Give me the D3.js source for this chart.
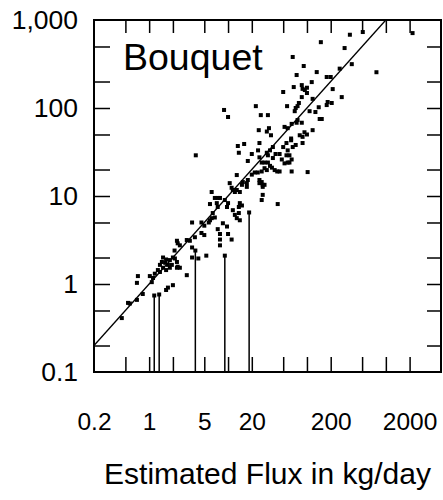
<!DOCTYPE html>
<html>
<head>
<meta charset="utf-8">
<script src="https://cdn.jsdelivr.net/npm/d3@7"></script>
<style>
  body { margin: 0; background: #fff; }
  svg { display: block; }
</style>
</head>
<body>
<div class="flux_chart"></div>
<script>
const estimated = [
  510, 350, 2180, 150, 300, 66, 370, 260, 760, 91, 74, 133, 178, 200, 115, 50, 68, 86, 88, 100,
  94, 212, 100, 276, 86, 118, 183, 206, 178, 79, 76, 72, 70, 56, 141, 108, 128, 22.5, 8.9, 10,
  26, 32, 145, 154, 76, 74, 86, 64, 52, 57, 24.5, 33, 31, 118, 93, 100, 81, 88, 63, 35,
  63, 72, 66, 55, 50, 88, 25, 24, 13.3, 16, 13.7, 37,
  20, 17.8, 34, 57, 31, 32, 45, 48, 60, 64, 26.7, 29, 32, 57, 36, 39, 42, 45, 60, 64,
  26.7, 23.8, 21.8, 20, 25, 26.7, 27.5, 25, 17.8, 15.4, 12.9, 10.5, 11.1, 11.5, 12.9, 14.1, 12.2, 6.2, 27.5, 26.7,
  42.6, 6.8, 7.4, 7.9, 9.1, 10, 9.7, 5.9, 7.2, 7.4, 14.1, 15, 13.7, 11.5, 12.2, 12.9, 14.1, 6.4, 6.2, 5.9,
  6.8, 8.6, 9.7, 7.4, 4.6, 5.0, 15, 17.3, 13.7, 5.7, 3.5, 4.6, 7.9, 7.9, 10, 11.1, 3.8, 3.28, 3.0, 2.25,
  2.3, 2.45, 3.5, 3.5, 4.2, 5.3, 5.0, 7.9, 29, 27.5, 17.3, 102, 3.9, 40, 55, 52, 25, 34, 37, 29, 31,
  2.1, 1.5, 1.64, 1.83, 2.0, 2.12, 1.45, 1.37, 1.6, 1.73, 1.94, 2.25, 2.3, 2.25, 2.45, 1.83, 1.64, 1.5, 1.29, 1.37,
  3.0, 0.72, 0.70, 1.02, 1.18, 1.12, 1.08, 2.0, 1.73, 1.64, 0.83, 0.70, 0.54, 0.57, 0.45
];
const observed = [
  730, 680, 710, 560, 480, 380, 315, 280, 255, 300, 237, 256, 225, 225, 197, 152, 173, 182, 165, 170,
  160, 164, 148, 133, 133, 127, 117, 114, 108, 114, 105, 100, 92, 105, 102, 92, 90, 105, 95, 79,
  83, 83, 75, 75, 73, 68, 68, 66, 61, 59, 56, 59, 54, 56, 53, 50, 49, 47, 45, 49,
  43, 38, 36, 40, 36, 40, 40, 33, 37, 39, 31, 36,
  30, 25, 33, 33, 31, 29, 30, 26, 29, 26, 24, 24, 24, 24, 21, 19.7, 19, 19, 24, 19,
  19, 18.5, 18.5, 17.5, 15.2, 14.4, 13.4, 14, 15.2, 14.4, 17.3, 14, 12.4, 11.7, 11.7, 11.1, 11.1, 11.1, 10.3, 9,
  8.1, 9.5, 9.5, 9.5, 9, 8.3, 7.5, 8.1, 8.3, 7.5, 8.3, 7.8, 7.5, 6.9, 6.1, 5.6, 5.3, 6.4, 5.6, 5.3,
  5.7, 4.9, 4.5, 4.2, 5.0, 4.6, 13.4, 14, 6.4, 5.0, 5.0, 3.8, 3.7, 3.2, 3.7, 3.2, 3.4, 3.1, 3.16, 3.1,
  2.9, 2.75, 2.6, 2.0, 1.95, 2.1, 3.6, 2.75, 13.4, 12.7, 12.7, 18.7, 29, 30, 29, 23.5, 27.5, 22, 27, 20.7, 19.7,
  2.4, 2.0, 1.9, 1.87, 2.0, 1.95, 1.78, 1.65, 1.74, 1.65, 1.65, 1.78, 1.57, 1.53, 1.53, 1.53, 1.44, 1.53, 1.44, 1.37,
  1.26, 1.23, 1.03, 1.23, 1.31, 1.17, 1.05, 0.97, 0.91, 0.855, 0.77, 0.66, 0.61, 0.6, 0.41
];
// censored samples, drawn as a stem from the bottom of the plot
const censoredEst = [1.16, 1.34, 3.85, 9.1, 18.5];
const censoredObs = [0.74, 0.76, 2.4, 2.1, 6.5];

const xTicks = [0.5, 1, 2, 5, 10, 20, 50, 100, 200, 500, 1000, 2000];
const xLabels = [0.2, 1, 5, 20, 200, 2000];
const yTicks = [0.2, 0.5, 1, 2, 5, 10, 20, 50, 100, 200, 500];
const yLabels = [0.1, 1, 10, 100, 1000];
const siteName = "Bouquet";
const xTitle = "Estimated Flux in kg/day";

const width = 443, height = 500;
const plotL = 94, plotR = 441, plotT = 20, plotB = 372;
const font = "Arial, 'Liberation Sans', sans-serif";

const x = d3.scaleLog().domain([0.2, 5000]).range([plotL, plotR]);
const y = d3.scaleLog().domain([0.1, 1000]).range([plotB, plotT]);

const svg = d3.select(".flux_chart").append("svg")
  .attr("width", width)
  .attr("height", height)
  .attr("font-family", font);

// inward ticks on all four sides
function tickAxis(g, axis) {
  g.call(axis);
  g.select(".domain").remove();
  g.selectAll(".tick line").attr("stroke", "#000").attr("stroke-width", 1.5);
}
svg.append("g").attr("transform", `translate(${plotL},0)`)
  .call(g => tickAxis(g, d3.axisLeft(y).tickValues(yTicks).tickSize(-16).tickFormat("")));
svg.append("g").attr("transform", `translate(${plotR},0)`)
  .call(g => tickAxis(g, d3.axisRight(y).tickValues(yTicks).tickSize(-14).tickFormat("")));
svg.append("g").attr("transform", `translate(0,${plotT})`)
  .call(g => tickAxis(g, d3.axisTop(x).tickValues(xTicks).tickSize(-13).tickFormat("")));
svg.append("g").attr("transform", `translate(0,${plotB})`)
  .call(g => tickAxis(g, d3.axisBottom(x).tickValues(xTicks).tickSize(-15).tickFormat("")));

// labels
const yLab = svg.append("g").attr("transform", `translate(${plotL},0)`)
  .call(d3.axisLeft(y).tickValues(yLabels).tickSize(0).tickPadding(16).tickFormat(d3.format(",")));
yLab.select(".domain").remove();
yLab.attr("font-size", 26.5).attr("font-family", font);

const xLab = svg.append("g").attr("transform", `translate(0,${plotB})`)
  .call(d3.axisBottom(x).tickValues(xLabels).tickSize(0).tickPadding(41).tickFormat(d => String(d)));
xLab.select(".domain").remove();
xLab.attr("font-size", 24.5).attr("font-family", font);

// 1:1 line
const lo = 0.2, hi = 1000;
svg.append("line")
  .attr("x1", x(lo)).attr("y1", y(lo))
  .attr("x2", x(hi)).attr("y2", y(hi))
  .attr("stroke", "#000").attr("stroke-width", 1.3);

// censored stems
svg.append("g").selectAll("line")
  .data(d3.range(censoredEst.length))
  .join("line")
  .attr("x1", i => x(censoredEst[i])).attr("x2", i => x(censoredEst[i]))
  .attr("y1", y(0.1)).attr("y2", i => y(censoredObs[i]))
  .attr("stroke", "#000").attr("stroke-width", 1.5);

const s = 4;
svg.append("g").selectAll("rect")
  .data(d3.range(estimated.length).map(i => [estimated[i], observed[i]])
    .concat(d3.range(censoredEst.length).map(i => [censoredEst[i], censoredObs[i]])))
  .join("rect")
  .attr("x", d => x(d[0]) - s / 2)
  .attr("y", d => y(d[1]) - s / 2)
  .attr("width", s).attr("height", s)
  .attr("fill", "#000");

// frame
svg.append("rect")
  .attr("x", plotL).attr("y", plotT)
  .attr("width", plotR - plotL).attr("height", plotB - plotT)
  .attr("fill", "none").attr("stroke", "#000").attr("stroke-width", 2);

svg.append("text")
  .attr("x", 123).attr("y", 70)
  .attr("font-size", 37.5)
  .text(siteName);

svg.append("text")
  .attr("x", (plotL + plotR) / 2).attr("y", 484)
  .attr("text-anchor", "middle")
  .attr("font-size", 30)
  .text(xTitle);
</script>
</body>
</html>
